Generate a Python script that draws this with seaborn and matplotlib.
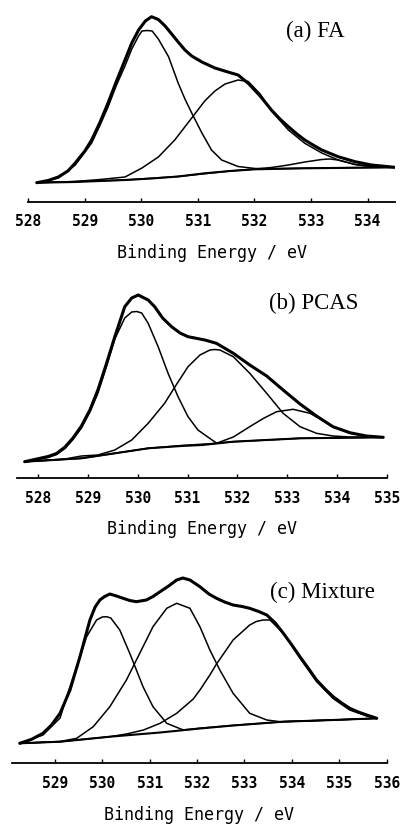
import matplotlib
matplotlib.use("Agg")
import matplotlib.pyplot as plt
import seaborn as sns
import pandas as pd

# ---------------- data (binding energy in eV, intensity in arbitrary units) -------------
# Panel (a) FA
a_env_E = [528.15,528.35,528.53,528.70,528.83,529.00,529.12,529.27,529.41,529.56,529.71,529.83,529.95,530.07,530.18,530.30,530.42,530.55,530.65,530.77,530.89,531.07,531.30,531.50,531.71,531.89,532.10,532.30,532.45,532.60,532.75,532.89,533.05,533.19,533.48,533.78,534.07,534.48]
a_env_I = [19.3,21.5,25,31,39,51,62,80,99,121,142,159,172,181,185.3,182.5,176,167,160,152,146,140,134,130.5,127,118.7,106,92,83,75.3,68,62,56.5,52,45.3,40.3,37,34.7]
a_p1_E = [528.15,528.53,528.83,529.12,529.27,529.41,529.56,529.71,529.83,529.95,530.01,530.10,530.19,530.30,530.48,530.65,530.77,530.89,531.07,531.24,531.42,531.71,532.01,532.30,532.89,533.69,534.48]
a_p1_I = [19.3,24,37,59,77,95,117,136,153,166,171,171.5,171,163,145.3,119,103,89,69,52,42,35.5,33.5,33.3,33.8,34.3,34.7]
a_p2_E = [528.15,528.83,529.27,529.71,530.01,530.30,530.59,530.89,531.12,531.30,531.48,531.71,531.89,532.10,532.30,532.60,532.89,533.19,533.48,533.78,534.07,534.48]
a_p2_I = [19.3,20.5,22.5,25,34,45,62,84,101,111,118,122,120.5,108,91,72,58.7,49,42,37.5,35.5,34.7]
a_p3_E = [528.15,529.71,530.65,531.57,532.01,532.30,532.60,532.89,533.19,533.33,533.48,533.78,534.07,534.48]
a_p3_I = [19.3,22,25.5,31,33,34.5,37,40,42.5,43,42,37.5,35.5,34.7]
a_bg_E = [528.15,528.83,529.27,529.71,530.18,530.65,531.12,531.57,532.01,532.89,533.69,534.48]
a_bg_I = [19.3,20,21,22,23.5,25.5,28.7,31,32.7,33.7,34.2,34.7]

# Panel (b) PCAS
b_env_E = [527.73,528.20,528.37,528.54,528.70,528.87,529.04,529.20,529.37,529.54,529.74,529.88,530.01,530.21,530.34,530.50,530.68,530.85,531.01,531.35,531.58,531.92,532.25,532.59,532.92,533.26,533.59,533.92,534.26,534.59,534.93]
b_env_I = [16.3,21.5,24.5,31,40,52,68,88,114,141.3,171.3,180,183,178,171.3,160,151.3,145,141.3,138,134.7,124.7,113,102,88,74,62,51.3,45.3,42,40.7]
b_p1_E = [527.73,528.20,528.37,528.54,528.70,528.87,529.04,529.20,529.37,529.54,529.74,529.88,529.98,530.08,530.21,530.41,530.61,530.81,531.01,531.21,531.35,531.58,531.92,533.26,534.93]
b_p1_I = [16.3,20.5,23.5,29.5,38.5,50,66,84.7,111,139,160,166,166.5,165,154.7,131.3,104.7,81.3,61.3,48,43,35,36.3,39.7,40.7]
b_p2_E = [527.73,528.54,528.87,529.20,529.54,529.88,530.21,530.54,530.75,531.01,531.25,531.45,531.55,531.65,531.92,532.25,532.59,532.92,533.26,533.59,533.92,534.26,534.93]
b_p2_I = [16.3,19,22,23,28,38,54.7,74.7,91.3,111.3,123,128,128.5,128,121.3,104.7,84.7,64.7,51.3,44.7,42,41,40.7]
b_p3_E = [527.73,528.87,529.54,530.21,530.88,531.58,531.92,532.25,532.52,532.79,533.12,533.46,533.70,533.92,534.26,534.59,534.93]
b_p3_I = [16.3,19.7,24.7,29.7,32.5,34.7,41,51.3,59.5,66.3,68.7,64.7,58,51.3,44.7,42,40.7]
b_bg_E = [527.73,528.87,529.54,530.21,530.88,531.30,531.92,533.26,534.93]
b_bg_I = [16.3,19.7,24.7,29.7,32,33,36.3,39.7,40.7]

# Panel (c) Mixture
c_env_E = [528.26,528.50,528.75,528.93,529.11,529.32,529.53,529.74,529.85,529.95,530.05,530.16,530.30,530.44,530.58,530.72,530.93,531.07,531.22,531.40,531.57,531.70,531.85,532.06,532.25,532.41,532.58,532.76,532.95,533.11,533.30,533.47,533.65,533.82,534.00,534.17,534.35,534.52,534.70,534.87,535.05,535.22,535.40,535.58,535.79]
c_env_I = [19.7,23.5,29.7,38,49.7,73,106.3,143,156,163,166.5,169,167,164.7,162.5,161.3,163,166.5,171.3,177,183,185,183,176.3,169,164.7,161,158,156.5,154.7,151.5,148,140,129.7,118,106.3,94.5,83,74,66.3,60,54.7,51,48,44.7]
c_p1_E = [528.26,528.75,529.11,529.25,529.46,529.67,529.88,530.00,530.09,530.18,530.37,530.58,530.86,531.07,531.36,531.71,532.06,532.76,533.82,534.87,535.79]
c_p1_I = [19.7,28,45,66.3,96.3,126.3,143,146,146.3,145,133,109.7,76.3,56.3,39.7,33,34.8,37.6,41.3,43,44.7]
c_p2_E = [528.26,529.11,529.46,529.81,530.16,530.51,530.86,531.07,531.36,531.57,531.85,532.06,532.27,532.48,532.76,533.11,533.47,533.75,534.87,535.79]
c_p2_I = [19.7,21.5,24.7,36.3,56.3,83,116.3,136.3,154.7,159.7,154.7,136.3,113,93,69.7,49.7,43,41.3,43,44.7]
c_p3_E = [528.26,529.11,530.16,530.51,530.87,531.22,531.57,531.92,532.06,532.27,532.41,532.76,533.11,533.25,533.39,533.54,533.82,534.17,534.52,534.87,535.22,535.58,535.79]
c_p3_I = [19.7,21.3,26.3,29,33,39.7,49.7,64,73,88,99,123,138,141.5,143,143,129.7,105,81.5,64.5,53,47,44.7]
c_bg_E = [528.26,529.11,530.16,531.22,532.06,532.76,533.82,534.87,535.79]
c_bg_I = [19.7,21.3,26.3,30.5,34.5,37.5,41.3,43,44.7]

titles = ["(a) FA", "(b) PCAS", "(c) Mixture"]
ticks_a = [528, 529, 530, 531, 532, 533, 534]
ticks_b = [528, 529, 530, 531, 532, 533, 534, 535]
ticks_c = [529, 530, 531, 532, 533, 534, 535, 536]
xlabel = "Binding Energy / eV"

# ---------------- figure ----------------
sns.set_theme(style="white")
plt.rcParams["font.family"] = ["DejaVu Sans Mono", "DejaVu Sans"]

W, H = 405, 830
fig = plt.figure(figsize=(W / 100, H / 100), dpi=100)


def px_axes(left, right, top, bottom):
    return fig.add_axes([left / W, 1 - bottom / H, (right - left) / W, (bottom - top) / H])


panels = [
    dict(box=(28.3, 395, 5, 202), xlim=(528.0, 534.485), ticks=ticks_a, title=titles[0],
         tpos=(345, 31),
         curves=[(a_bg_E, a_bg_I), (a_p1_E, a_p1_I), (a_p2_E, a_p2_I), (a_p3_E, a_p3_I)],
         env=(a_env_E, a_env_I), lab_off=51),
    dict(box=(16.7, 386.7, 282, 478), xlim=(527.57, 535.0), ticks=ticks_b, title=titles[1],
         tpos=(358, 303),
         curves=[(b_bg_E, b_bg_I), (b_p1_E, b_p1_I), (b_p2_E, b_p2_I), (b_p3_E, b_p3_I)],
         env=(b_env_E, b_env_I), lab_off=51),
    dict(box=(11.7, 386.7, 570, 763), xlim=(528.09, 536.0), ticks=ticks_c, title=titles[2],
         tpos=(375, 592),
         curves=[(c_bg_E, c_bg_I), (c_p1_E, c_p1_I), (c_p2_E, c_p2_I), (c_p3_E, c_p3_I)],
         env=(c_env_E, c_env_I), lab_off=52),
]

for p in panels:
    l, r, t, b = p["box"]
    ax = px_axes(l, r, t, b)
    for i, (E, I) in enumerate(p["curves"]):
        df = pd.DataFrame({"E": E, "I": I})
        sns.lineplot(data=df, x="E", y="I", ax=ax, color="black",
                     linewidth=1.5 if i == 0 else 1.1, sort=False, estimator=None, legend=False)
    E, I = p["env"]
    sns.lineplot(data=pd.DataFrame({"E": E, "I": I}), x="E", y="I", ax=ax, color="black",
                 linewidth=2.2, sort=False, estimator=None, legend=False)
    ax.set_xlim(*p["xlim"])
    ax.set_ylim(0, b - t)
    for s in ["left", "right", "top"]:
        ax.spines[s].set_visible(False)
    ax.spines["bottom"].set_color("black")
    ax.spines["bottom"].set_linewidth(1.3)
    ax.set_yticks([])
    ax.set_ylabel("")
    ax.set_xticks(p["ticks"])
    ax.set_xticklabels([str(v) for v in p["ticks"]], fontweight="bold")
    ax.tick_params(axis="x", direction="in", length=3, width=1, pad=9, labelsize=10.5,
                   colors="black", bottom=True)
    ax.set_xlabel(xlabel, fontsize=12, color="black")
    ax.xaxis.label.set_va("center")
    ax.xaxis.set_label_coords(0.5, -p["lab_off"] / (b - t))
    ax.patch.set_alpha(0)
    fig.text(p["tpos"][0] / W, 1 - p["tpos"][1] / H, p["title"], ha="right", va="center",
             fontsize=16.5, family=["Liberation Serif", "DejaVu Serif"], color="black")

fig.savefig("out.png", dpi=100)
